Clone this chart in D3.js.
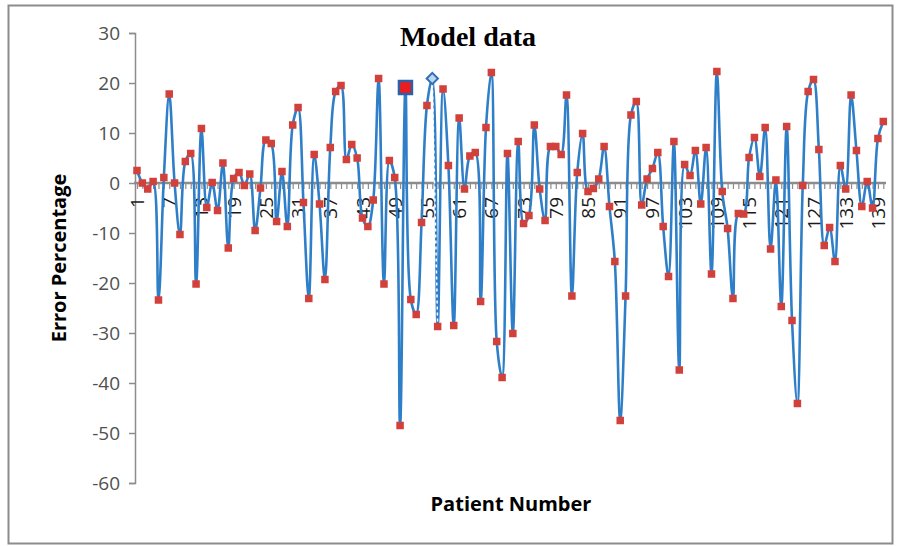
<!DOCTYPE html>
<html lang="en">
<head>
  <meta charset="UTF-8">
  <title>Model data</title>
  <style>
    body { margin: 0; background: #fff; }
    svg { display: block; }
    text { font-family: "Open Sans", "Liberation Sans", sans-serif; }
  </style>
</head>
<body>
  <svg id="chart" width="901" height="546"></svg>

  <script src="https://cdn.jsdelivr.net/npm/d3@7/dist/d3.min.js"></script>
  <script>
    // error percentage per patient
    const errors = [
      2.5, 0, -1.2, 0.3, -23.4, 1.1, 17.8, 0, -10.3, 4.3,
      5.9, -20.2, 10.9, -4.9, 0.1, -5.5, 4.0, -13.0, 0.9, 2.1,
      -0.5, 1.8, -9.5, -1.0, 8.6, 7.9, -7.7, 2.3, -8.7, 11.6,
      15.1, -3.9, -23.1, 5.7, -4.2, -19.3, 7.1, 18.3, 19.5, 4.7,
      7.7, 5.0, -7.0, -8.7, -3.4, 20.9, -20.2, 4.5, 1.1, -48.5,
      19.1, -23.3, -26.3, -7.9, 15.5, 20.9, -28.7, 18.8, 3.5, -28.5,
      13.0, -1.2, 5.4, 6.1, -23.7, 11.1, 22.1, -31.7, -38.9, 5.9,
      -30.1, 8.3, -8.1, -6.5, 11.6, -1.2, -7.5, 7.3, 7.3, 5.7,
      17.6, -22.6, 2.1, 9.9, -1.7, -1.1, 0.8, 7.3, -4.7, -15.7,
      -47.5, -22.6, 13.6, 16.3, -4.4, 0.8, 2.9, 6.1, -8.7, -18.7,
      8.3, -37.4, 3.7, 1.5, 6.5, -4.2, 7.1, -18.2, 22.3, -1.7,
      -9.1, -23.1, -6.1, -6.2, 5.1, 9.1, 1.3, 11.1, -13.2, 0.6,
      -24.7, 11.3, -27.5, -44.1, -0.5, 18.3, 20.7, 6.7, -12.5, -8.9,
      -15.7, 3.5, -1.2, 17.6, 6.5, -4.7, 0.3, -5.0, 8.9, 12.3
    ];
    const patients = errors.map((d, i) => i + 1);
    const yTicks = [30, 20, 10, 0, -10, -20, -30, -40, -50, -60];
    const xLabels = patients.filter(p => (p - 1) % 6 === 0);
    const squarePatient = 51;   // highlighted point drawn as big square
    const diamondPatient = 56;  // highlighted point drawn as diamond

    const svg = d3.select("#chart");

    // chart frame
    svg.append("rect")
      .attr("x", 8.5).attr("y", 5.5)
      .attr("width", 884).attr("height", 538)
      .attr("fill", "none")
      .attr("stroke", "#8c8c8c")
      .attr("stroke-width", 2);

    const x = d3.scalePoint()
      .domain(patients)
      .range([137, 883.3]);

    const y = d3.scaleLinear()
      .domain([-60, 30])
      .range([483, 33]);

    // y axis
    const yAxis = svg.append("g")
      .attr("transform", "translate(135,0)")
      .call(d3.axisLeft(y).tickValues(yTicks).tickSize(6).tickPadding(9).tickFormat(d => String(d)));
    yAxis.select(".domain").attr("stroke", "#8c8c8c").attr("stroke-width", 1.5);
    yAxis.selectAll(".tick line").attr("stroke", "#8c8c8c").attr("stroke-width", 1.5);
    yAxis.selectAll(".tick text")
      .attr("fill", "#505050")
      .style("font-size", "19px");

    // x axis along zero, ticks for every patient
    const xAxis = svg.append("g")
      .attr("transform", `translate(0,${y(0)})`)
      .call(d3.axisBottom(x).tickValues(patients).tickSize(6).tickSizeOuter(0).tickFormat(""));
    xAxis.select(".domain")
      .attr("d", `M134,0H886`)
      .attr("stroke", "#8c8c8c").attr("stroke-width", 2.5);
    xAxis.selectAll(".tick line").attr("stroke", "#8c8c8c").attr("stroke-width", 1.2);

    // rotated labels every 6th patient
    svg.append("g").selectAll("text")
      .data(xLabels)
      .join("text")
      .attr("transform", d => `translate(${x(d) + 7},${y(0) + 14}) rotate(-90)`)
      .attr("text-anchor", "end")
      .attr("fill", "#1a1a1a")
      .style("font-size", "19px")
      .text(d => d);

    // series line
    const line = d3.line()
      .x((d, i) => x(patients[i]))
      .y(d => y(d))
      .curve(d3.curveCatmullRom.alpha(0.5));

    svg.append("path")
      .datum(errors)
      .attr("fill", "none")
      .attr("stroke", "#2f7fc8")
      .attr("stroke-width", 2.6)
      .attr("d", line);

    // dashed selected segment between the diamond and the next point
    const di = diamondPatient - 1;
    svg.append("line")
      .attr("x1", x(diamondPatient)).attr("y1", y(errors[di]))
      .attr("x2", x(diamondPatient + 1)).attr("y2", y(errors[di + 1]))
      .attr("stroke", "#ffffff")
      .attr("stroke-width", 1.5)
      .attr("stroke-dasharray", "3,3");

    // markers
    const ms = 7.5;
    svg.append("g").selectAll("rect")
      .data(errors.map((v, i) => ({ p: i + 1, v })).filter(d => d.p !== squarePatient && d.p !== diamondPatient))
      .join("rect")
      .attr("x", d => x(d.p) - ms / 2)
      .attr("y", d => y(d.v) - ms / 2)
      .attr("width", ms)
      .attr("height", ms)
      .attr("fill", "#d2403b");

    // highlighted big square
    const sv = errors[squarePatient - 1];
    svg.append("rect")
      .attr("x", x(squarePatient) - 6.5)
      .attr("y", y(sv) - 6.5)
      .attr("width", 13).attr("height", 13)
      .attr("fill", "#ee1c1c")
      .attr("stroke", "#2f5fa8")
      .attr("stroke-width", 2.5);

    // highlighted diamond
    const dv = errors[diamondPatient - 1];
    svg.append("path")
      .attr("transform", `translate(${x(diamondPatient)},${y(dv)}) rotate(45)`)
      .attr("d", "M-4,-4H4V4H-4Z")
      .attr("fill", "#bcd6ee")
      .attr("stroke", "#2f6fb8")
      .attr("stroke-width", 2);

    // titles
    svg.append("text")
      .attr("x", 468).attr("y", 46)
      .attr("text-anchor", "middle")
      .style("font-family", "'Liberation Serif', 'DejaVu Serif', serif")
      .style("font-weight", "bold")
      .style("font-size", "28px")
      .text("Model data");

    svg.append("text")
      .attr("transform", "translate(66,258) rotate(-90)")
      .attr("text-anchor", "middle")
      .style("font-weight", "bold")
      .style("font-size", "20px")
      .text("Error Percentage");

    svg.append("text")
      .attr("x", 511).attr("y", 511)
      .attr("text-anchor", "middle")
      .style("font-weight", "bold")
      .style("font-size", "20px")
      .text("Patient Number");
  </script>
</body>
</html>
